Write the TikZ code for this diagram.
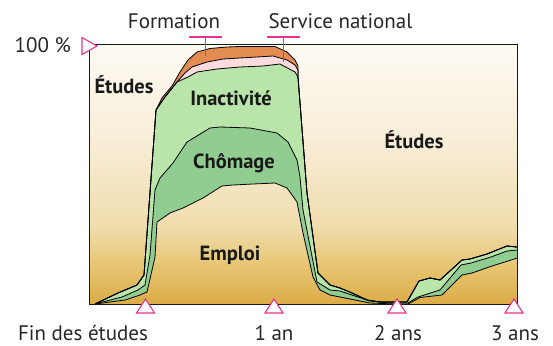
\documentclass[tikz,border=0pt]{standalone}
\usepackage{fontspec}
\setmainfont{PT Sans}
\definecolor{bgA}{RGB}{219,172,70}
\definecolor{bgB}{RGB}{231,197,115}
\definecolor{bgC}{RGB}{240,221,172}
\definecolor{bgD}{RGB}{247,236,212}
\definecolor{bgE}{RGB}{254,251,244}
\definecolor{chom}{RGB}{145,205,145}
\definecolor{inac}{RGB}{185,228,170}
\definecolor{form}{RGB}{253,220,222}
\definecolor{serv}{RGB}{226,140,82}
\definecolor{mark}{RGB}{232,52,140}
\pgfdeclareverticalshading{bgshade}{100bp}{color(0bp)=(bgA); color(25bp)=(bgA); color(32.5bp)=(bgB); color(40bp)=(bgC); color(55bp)=(bgD); color(75bp)=(bgE); color(100bp)=(bgE)}
\def\Spath{(95,304) -- (118,293) -- (137,285) -- (144,275) -- (156,110) -- (162,98) -- (172,86) -- (180,72) -- (188,60) -- (197,52) -- (210,48.5) -- (227,47) -- (240,46.5) -- (275,46.5) -- (287,52) -- (295,60) -- (298,66) -- (298,77) -- (307,193) -- (318,273) -- (330,285) -- (340,288) -- (352,293) -- (367,300) -- (380,302) -- (407,302) -- (419,281) -- (430,278) -- (440,280) -- (462,260) -- (470,259) -- (487,254) -- (507,246) -- (517,247)}
\def\Fpath{(95,304) -- (118,293) -- (137,285) -- (144,275) -- (156,110) -- (165,97) -- (177,82) -- (185,73) -- (192,67) -- (207,62) -- (223,59) -- (240,58) -- (257,57) -- (273,56) -- (287,60) -- (295,65) -- (298,70) -- (298,77) -- (307,193) -- (318,273) -- (330,285) -- (340,288) -- (352,293) -- (367,300) -- (380,302) -- (407,302) -- (419,281) -- (430,278) -- (440,280) -- (462,260) -- (470,259) -- (487,254) -- (507,246) -- (517,247)}
\def\Ipath{(95,304) -- (118,293) -- (137,285) -- (144,275) -- (156,110) -- (165,97) -- (177,82) -- (188,77) -- (197,72) -- (217,69) -- (240,67) -- (263,66) -- (280,64) -- (295,72) -- (298,77) -- (307,193) -- (318,273) -- (330,285) -- (340,288) -- (352,293) -- (367,300) -- (380,302) -- (407,302) -- (419,281) -- (430,278) -- (440,280) -- (462,260) -- (470,259) -- (487,254) -- (507,246) -- (517,247)}
\def\Cpath{(95,304) -- (122,297) -- (138,290) -- (145,285) -- (150,255) -- (155,190) -- (160,178) -- (173,163) -- (187,142) -- (210,128) -- (220,127) -- (250,128) -- (277,133) -- (288,142) -- (297,160) -- (300,177) -- (303,210) -- (317,282) -- (330,290) -- (340,291) -- (355,296) -- (370,301) -- (390,303) -- (408,303) -- (418,297) -- (440,290) -- (461,265) -- (471,263) -- (491,257) -- (507,251) -- (517,250)}
\def\Epath{(95,304) -- (125,300) -- (140,295) -- (147,292) -- (155,257) -- (157,222) -- (170,213) -- (183,208) -- (203,198) -- (222,186) -- (233,185) -- (253,184) -- (275,183) -- (287,188) -- (297,202) -- (303,233) -- (313,277) -- (320,290) -- (330,295) -- (340,297) -- (355,300) -- (370,303) -- (395,304) -- (408,304) -- (420,297.5) -- (442,295) -- (462,275) -- (472,273) -- (492,266) -- (508,261) -- (517,258)}
\begin{document}
\begin{tikzpicture}[x=1pt,y=-1pt,
  outl/.style={draw=black,line width=0.8pt,line join=round},
  lab/.style={font=\fontsize{21}{24}\selectfont,inner sep=0pt,text=black!85},
  blab/.style={font=\fontsize{20.5}{23}\selectfont\bfseries,inner sep=0pt,text=black!90},
  tickmark/.style={draw=mark,line width=1.1pt,fill=white,line join=miter},
  tbar/.style={draw=mark,line width=1.1pt}]
\useasboundingbox (0,0) rectangle (553,345);
% background
\shade[shading=bgshade] (89,45) rectangle (517,304);
% bands
\fill[serv] \Spath -- (517,304) -- cycle;
\fill[form] \Fpath -- (517,304) -- cycle;
\fill[inac] \Ipath -- (517,304) -- cycle;
\fill[chom] \Cpath -- (517,304) -- cycle;
\begin{scope}
\clip \Epath -- (517,304) -- cycle;
\shade[shading=bgshade] (89,45) rectangle (517,304);
\end{scope}
% outlines
\draw[outl] \Spath;
\draw[outl] \Fpath;
\draw[outl] \Ipath;
\draw[outl] \Cpath;
\draw[outl] \Epath;
% frame
\draw[line width=1pt,black!90] (89,45) rectangle (517,304);
% top markers
\coordinate (fa) at (189,37); \coordinate (fb) at (222,37);
\coordinate (fc) at (205.5,37); \coordinate (fd) at (205.5,56);
\draw[tbar] (fa) -- (fb); \draw[tbar] (fc) -- (fd);
\coordinate (sa) at (267,37); \coordinate (sb) at (300,37);
\coordinate (sc) at (283.5,37); \coordinate (sd) at (283.5,62);
\draw[tbar] (sa) -- (sb); \draw[tbar] (sc) -- (sd);
% axis markers
\draw[tickmark] (82,37.5) -- (97,46) -- (82,54.5) -- cycle;
\foreach \xx in {145.5,274,397,514}{
  \draw[tickmark] (\xx,299) -- (\xx+9,313) -- (\xx-9,313) -- cycle;
}
% labels
\node[lab,anchor=base] (lform) at (174,29) {Formation};
\node[lab,anchor=base] (lserv) at (340.5,29) {Service national};
\node[lab,anchor=base east] (l100) at (71,52.5) {100 \%};
\node[lab,anchor=base] (l0) at (83,340) {Fin des études};
\node[lab,anchor=base] (l1) at (274,340) {1 an};
\node[lab,anchor=base] (l2) at (398,340) {2 ans};
\node[lab,anchor=base] (l3) at (515,340) {3 ans};
\node[blab,anchor=base] (etl) at (124,93) {Études};
\node[blab,anchor=base] (ina) at (231,105.5) {Inactivité};
\node[blab,anchor=base] (cho) at (234,168) {Chômage};
\node[blab,anchor=base] (emp) at (230,260) {Emploi};
\node[blab,anchor=base] (etr) at (414,148) {Études};
\end{tikzpicture}
\end{document}
